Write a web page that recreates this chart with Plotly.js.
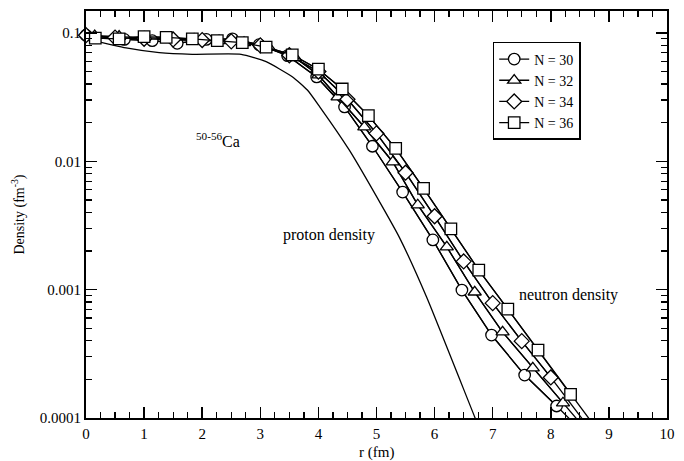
<!DOCTYPE html>
<html>
<head>
<meta charset="utf-8">
<script src="https://cdn.plot.ly/plotly-3.0.1.min.js"></script>
<style>
  html, body { margin: 0; padding: 0; background: #ffffff; }
  #chart { width: 684px; height: 461px; }
</style>
</head>
<body>
<div id="chart"></div>
<script>
(function () {
  "use strict";

  // neutron densities (fm^-3), marker points
  const N30_R = [0.0, 0.66, 1.14, 1.57, 2.07, 2.52, 2.98, 3.47, 3.97, 4.45, 4.93, 5.45, 5.97, 6.47, 6.98, 7.55, 8.10];
  const N30_RHO = [0.096, 0.089, 0.087, 0.083, 0.089, 0.090, 0.081, 0.0665, 0.0454, 0.0265, 0.0131, 0.00576, 0.00244, 0.000993, 0.000443, 0.000216, 0.000124];

  const N32_R = [0.15, 0.57, 1.0, 1.43, 1.86, 2.29, 2.72, 3.15, 3.6, 4.0, 4.33, 4.79, 5.28, 5.71, 6.21, 6.69, 7.17, 7.69, 8.21];
  const N32_RHO = [0.095, 0.094, 0.092, 0.090, 0.089, 0.087, 0.084, 0.077, 0.064, 0.047, 0.0317, 0.0185, 0.00988, 0.00457, 0.00215, 0.000957, 0.000467, 0.000245, 0.000131];

  const N34_R = [0.0, 0.5, 1.0, 1.5, 2.0, 2.5, 3.0, 3.5, 4.0, 4.5, 5.0, 5.5, 6.0, 6.5, 7.0, 7.5, 8.0];
  const N34_RHO = [0.096, 0.092, 0.090, 0.089, 0.088, 0.086, 0.080, 0.067, 0.050, 0.0304, 0.0165, 0.00815, 0.00373, 0.00166, 0.000785, 0.000397, 0.000207];

  const N36_R = [0.16, 0.57, 1.0, 1.38, 1.83, 2.26, 2.69, 3.10, 3.55, 4.0, 4.41, 4.86, 5.33, 5.81, 6.28, 6.76, 7.26, 7.78, 8.34];
  const N36_RHO = [0.091, 0.0898, 0.0936, 0.0925, 0.0898, 0.0871, 0.0841, 0.0775, 0.0674, 0.0522, 0.0366, 0.0227, 0.0126, 0.00616, 0.00297, 0.00142, 0.000706, 0.000338, 0.000153];

  // where each curve leaves the frame below 1e-4
  const TAIL_R = { n30: 8.8, n32: 8.8, n34: 8.8, n36: 8.8 };
  const TAIL_RHO = { n30: 0.00006, n32: 0.000064, n34: 0.000069, n36: 0.000081 };

  const PROTON_R = [0.0, 0.69, 1.26, 1.83, 2.67, 3.10, 3.55, 3.81, 4.02, 4.53, 5.10, 5.40, 5.86, 6.69, 7.0];
  const PROTON_RHO = [0.09, 0.0764, 0.0702, 0.0682, 0.0682, 0.0597, 0.0456, 0.0359, 0.0267, 0.01226, 0.00443, 0.00252, 0.00088, 0.000102, 0.000046];

  const SERIES = [
    { key: "n30", label: "N = 30", r: N30_R, rho: N30_RHO, symbol: "circle" },
    { key: "n32", label: "N = 32", r: N32_R, rho: N32_RHO, symbol: "triangle-up" },
    { key: "n34", label: "N = 34", r: N34_R, rho: N34_RHO, symbol: "diamond" },
    { key: "n36", label: "N = 36", r: N36_R, rho: N36_RHO, symbol: "square" }
  ];

  const Y_TICKS = [0.0001, 0.001, 0.01, 0.1];
  const Y_TICK_TEXT = ["0.0001", "0.001", "0.01", "0.1"];

  function minorLogTicks() {
    const out = [];
    Y_TICKS.forEach((decade) => {
      for (let k = 2; k <= 9; k++) out.push(decade * k);
    });
    return out;
  }

  const FONT = "Liberation Serif, Times New Roman, serif";
  const INK = "#000000";

  function lineTrace(s) {
    return {
      x: s.r.concat([TAIL_R[s.key]]),
      y: s.rho.concat([TAIL_RHO[s.key]]),
      type: "scatter",
      mode: "lines",
      line: { color: INK, width: 1.3 },
      showlegend: false,
      hoverinfo: "skip"
    };
  }

  function markerTrace(s) {
    return {
      x: s.r,
      y: s.rho,
      name: s.label,
      type: "scatter",
      mode: "markers+lines",
      cliponaxis: false,
      line: { color: INK, width: 1.3 },
      marker: {
        symbol: s.symbol,
        size: 11.5,
        color: "#ffffff",
        line: { color: INK, width: 1.3 }
      }
    };
  }

  const traces = SERIES.map(lineTrace);
  traces.push({
    x: PROTON_R,
    y: PROTON_RHO,
    type: "scatter",
    mode: "lines",
    line: { color: INK, width: 1.3, shape: "spline", smoothing: 0.5 },
    showlegend: false,
    hoverinfo: "skip"
  });
  SERIES.forEach((s) => traces.push(markerTrace(s)));

  const layout = {
    width: 684,
    height: 461,
    margin: { l: 86, r: 17, t: 11, b: 43 },
    paper_bgcolor: "#ffffff",
    plot_bgcolor: "#ffffff",
    font: { family: FONT, color: INK, size: 15 },
    showlegend: true,
    legend: {
      x: 0.70,
      y: 0.924,
      xanchor: "left",
      yanchor: "top",
      bgcolor: "#ffffff",
      bordercolor: INK,
      borderwidth: 1.5,
      font: { family: FONT, size: 14, color: INK },
      tracegroupgap: 0,
      itemwidth: 30
    },
    xaxis: {
      range: [0, 10],
      dtick: 1,
      tick0: 0,
      ticks: "inside",
      ticklen: 11,
      tickwidth: 1.5,
      tickcolor: INK,
      ticklabelstandoff: 1,
      showline: true,
      linecolor: INK,
      linewidth: 2,
      mirror: "ticks",
      showgrid: false,
      zeroline: false,
      tickfont: { family: FONT, size: 15 },
      minor: { dtick: 0.25, ticks: "inside", ticklen: 6, tickwidth: 1.3, tickcolor: INK, showgrid: false }
    },
    yaxis: {
      type: "log",
      range: [-4, -0.829],
      tickmode: "array",
      tickvals: Y_TICKS,
      ticktext: Y_TICK_TEXT,
      ticks: "inside",
      ticklen: 11,
      tickwidth: 1.5,
      tickcolor: INK,
      showline: true,
      linecolor: INK,
      linewidth: 2,
      mirror: "ticks",
      showgrid: false,
      zeroline: false,
      tickfont: { family: FONT, size: 15 },
      minor: { tickmode: "array", tickvals: minorLogTicks(), ticks: "inside", ticklen: 6, tickwidth: 1.3, tickcolor: INK, showgrid: false },
      title: { text: "Density (fm<sup>-3</sup>)", font: { family: FONT, size: 14 }, standoff: 12 }
    },
    annotations: [
      {
        // x-axis title, placed below the tick labels
        x: 0.5, y: 0, xref: "paper", yref: "paper",
        text: "r (fm)", showarrow: false, xanchor: "center", yanchor: "top",
        yshift: -24,
        font: { family: FONT, size: 15 }
      },
      {
        x: 1.86, y: -1.834, xref: "x", yref: "y",
        text: "<sup>50-56</sup>Ca", showarrow: false, xanchor: "left",
        font: { family: FONT, size: 16 }
      },
      {
        x: 3.36, y: -2.574, xref: "x", yref: "y",
        text: "proton density", showarrow: false, xanchor: "left",
        font: { family: FONT, size: 16 }
      },
      {
        x: 7.41, y: -3.04, xref: "x", yref: "y",
        text: "neutron density", showarrow: false, xanchor: "left",
        font: { family: FONT, size: 16 }
      }
    ]
  };

  Plotly.newPlot("chart", traces, layout, { displayModeBar: false, staticPlot: true });
})();
</script>
</body>
</html>
